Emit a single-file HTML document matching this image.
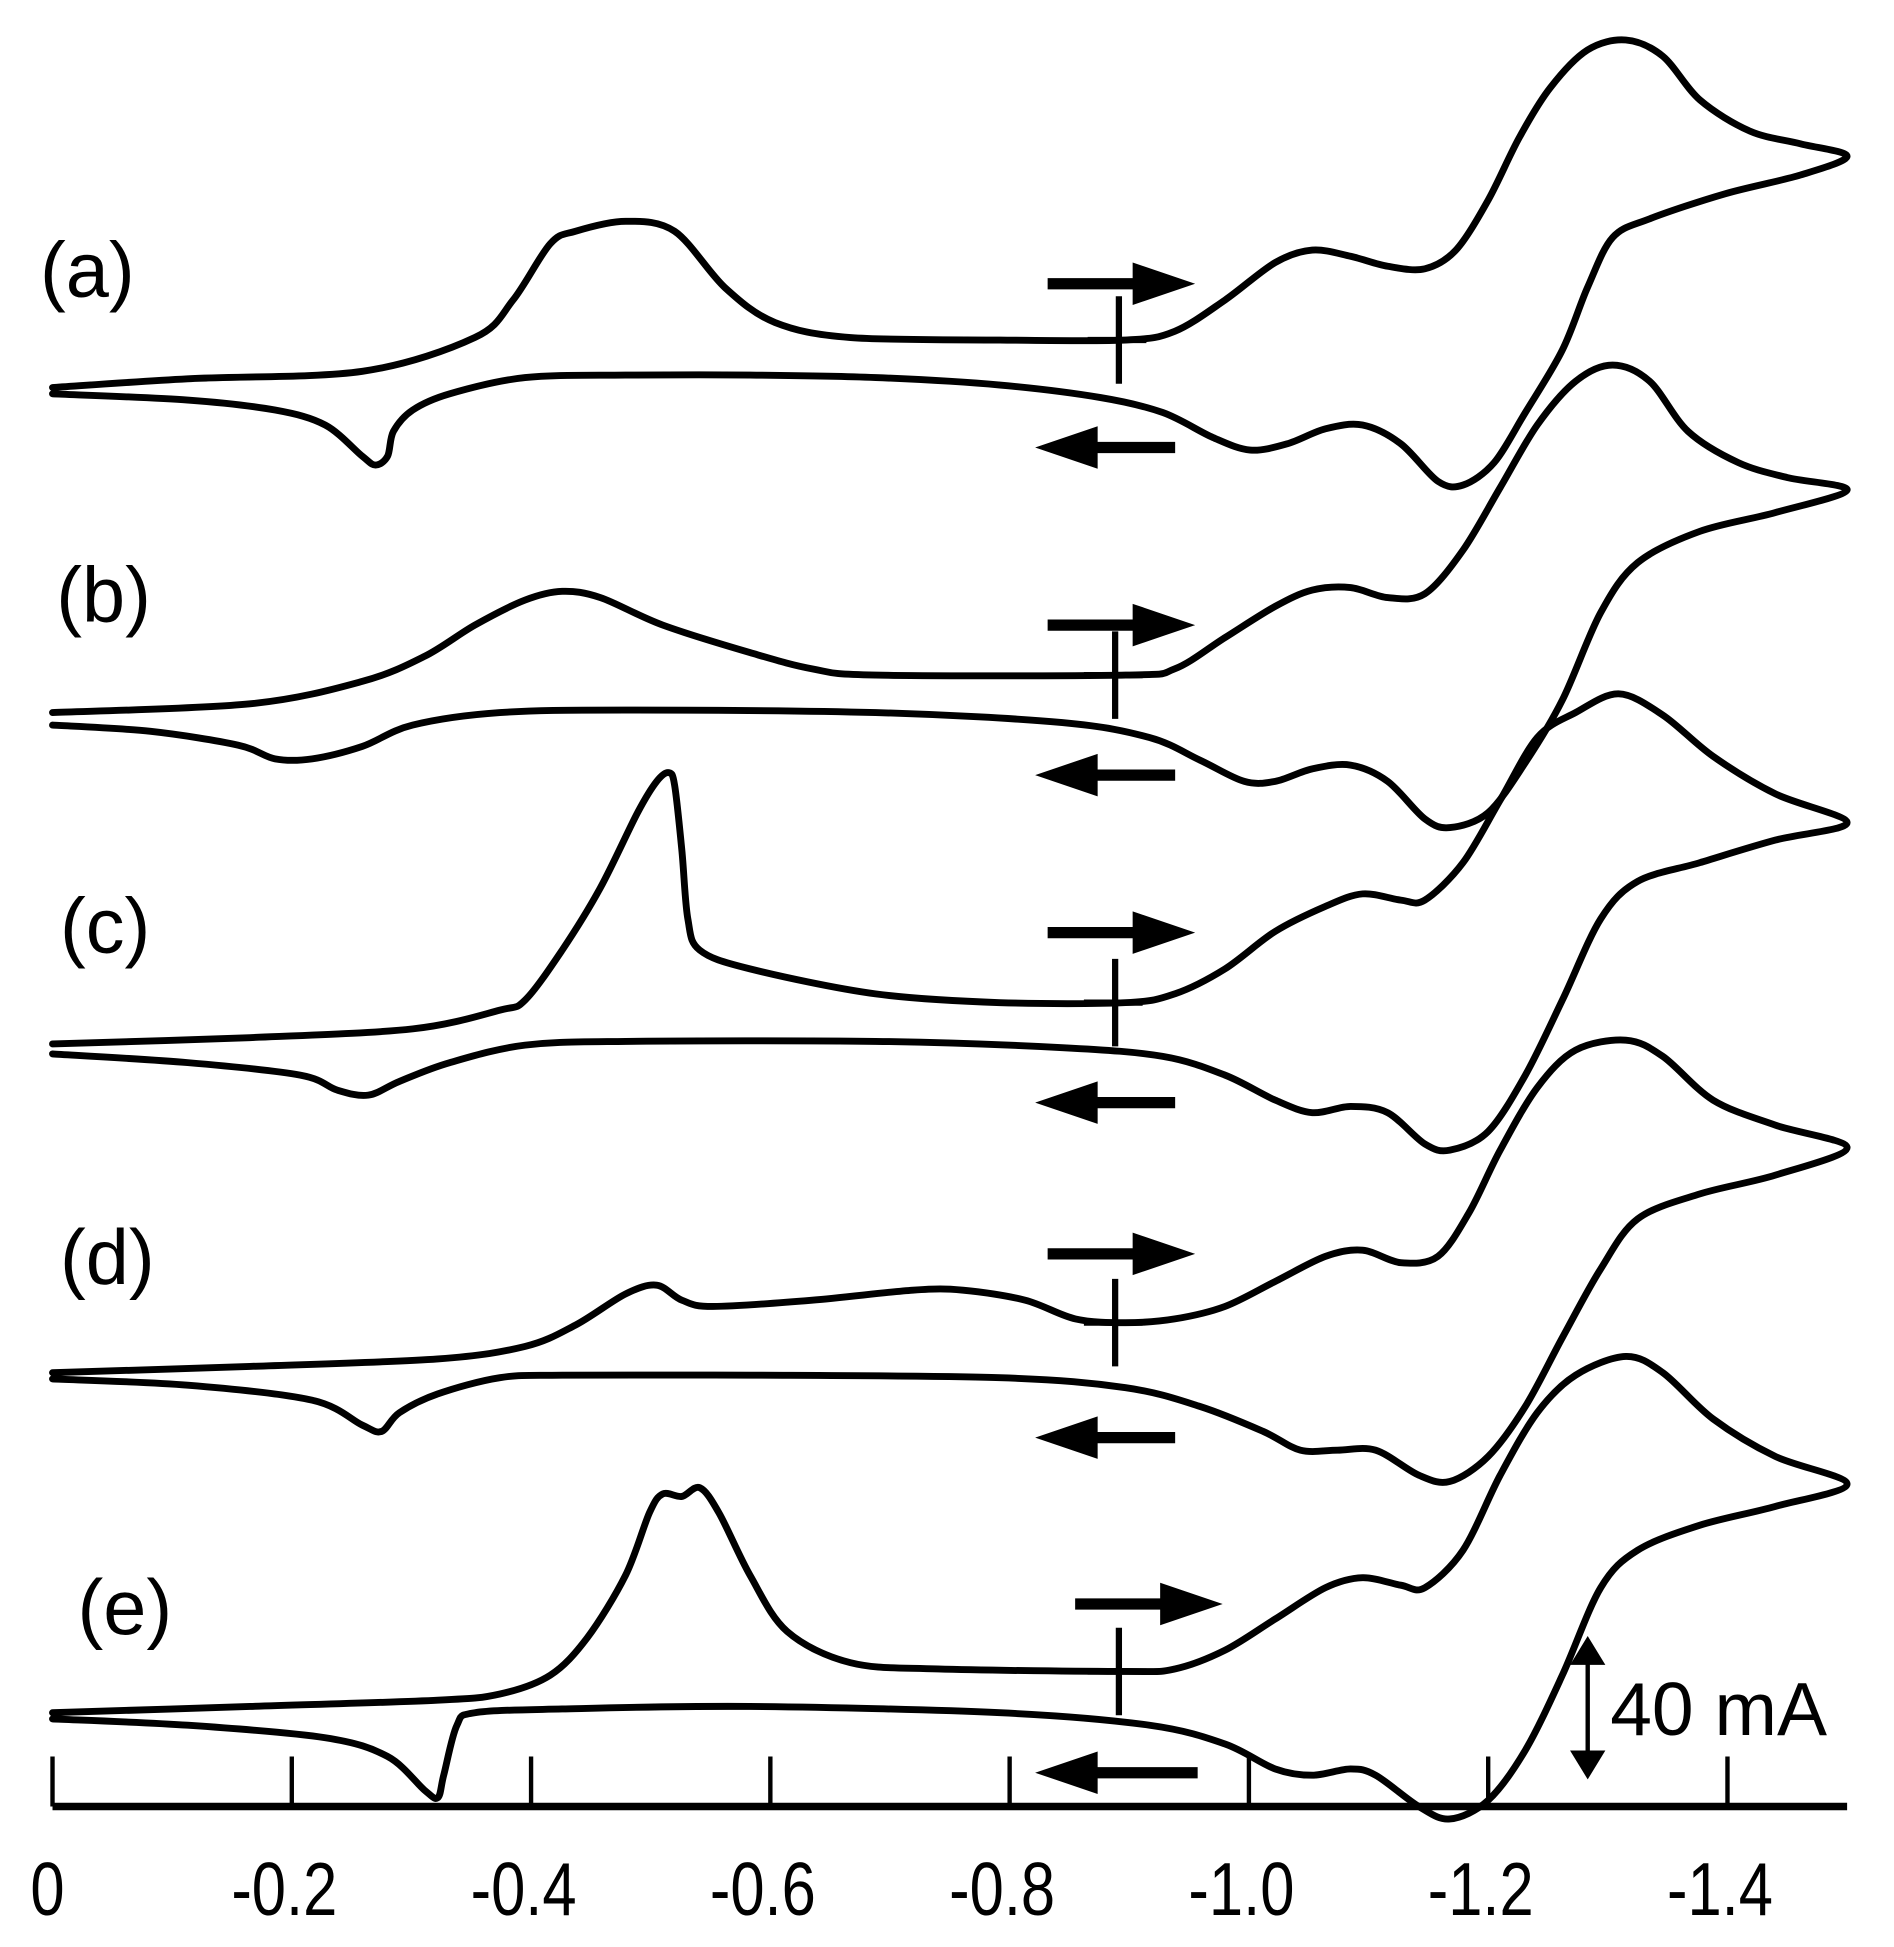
<!DOCTYPE html>
<html><head><meta charset="utf-8"><style>
html,body{margin:0;padding:0;background:#fff}
svg{display:block}
text{font-family:"Liberation Sans",sans-serif;fill:#000}
</style></head><body>
<svg id="chart" width="1894" height="1947" viewBox="0 0 1515 1557.4" xmlns="http://www.w3.org/2000/svg">
<g id="axis"></g>
<g id="traces"></g>
<g id="marks"></g>
</svg>
<script>
const tickValues=[0,0.2,0.4,0.6,0.8,1.0,1.2,1.4];
const tickLabels=["0","-0.2","-0.4","-0.6","-0.8","-1.0","-1.2","-1.4"];
const traceNames=["(a)","(b)","(c)","(d)","(e)"];
const traceOffsets=[312,572,838,1100,1368];
const aE=[0,0.113,0.259,0.353,0.385,0.416,0.437,0.479,0.520,0.562,0.604,0.667,0.792,0.897,0.938,0.980,1.022,1.053,1.085,1.116,1.147,1.173,1.200,1.226,1.252,1.283,1.315,1.346,1.377,1.419,1.461,1.5,1.461,1.398,1.335,1.304,1.283,1.262,1.231,1.205,1.179,1.158,1.127,1.095,1.064,1.032,1.001,0.970,0.928,0.876,0.792,0.688,0.583,0.479,0.395,0.332,0.301,0.285,0.280,0.270,0.259,0.228,0.186,0.113,0];
const aI=[0.8,3.6,6.0,16.8,28.8,46.8,50.8,54.0,50.8,32.8,21.6,16.8,16.0,16.0,18.8,28.8,40.8,44.8,42.8,39.6,38.8,44.8,60.8,80.8,96.8,108.8,112.0,106.8,92.8,82.8,78.8,74.8,68.8,62.8,54.8,48.8,32.8,12.8,-7.2,-23.2,-30.4,-29.2,-17.2,-11.2,-12.4,-17.2,-19.2,-15.2,-7.2,-2.4,1.6,4.0,4.8,4.8,4.0,-1.2,-6.4,-13.2,-21.2,-24.0,-21.2,-11.2,-6.4,-3.2,-1.2];
const bE=[0,0.165,0.259,0.311,0.353,0.395,0.426,0.458,0.510,0.583,0.635,0.688,0.897,0.938,0.980,1.022,1.053,1.085,1.116,1.147,1.179,1.210,1.241,1.273,1.304,1.335,1.367,1.409,1.450,1.5,1.440,1.377,1.325,1.294,1.262,1.231,1.200,1.168,1.147,1.116,1.085,1.053,1.022,0.996,0.959,0.917,0.844,0.688,0.479,0.374,0.301,0.259,0.217,0.186,0.155,0.082,0];
const bI=[0.8,3.6,10.8,18.8,28.8,36.8,39.6,37.6,28.8,20.0,14.8,12.8,12.8,14.8,24.8,34.8,40.0,40.8,37.6,38.8,52.8,72.8,92.8,106.8,112.0,106.8,90.8,80.8,76.0,72.0,64.8,58.8,48.8,32.8,4.8,-15.2,-31.2,-36.0,-33.2,-21.2,-16.0,-17.2,-21.2,-21.2,-14.4,-7.2,-2.4,0.8,1.6,0.8,-3.2,-10.0,-14.0,-14.0,-9.6,-5.2,-3.2];
const cE=[0,0.165,0.301,0.374,0.395,0.426,0.458,0.489,0.505,0.515,0.520,0.526,0.531,0.541,0.583,0.688,0.792,0.897,0.938,0.980,1.022,1.064,1.095,1.127,1.147,1.179,1.210,1.241,1.273,1.309,1.346,1.388,1.440,1.5,1.440,1.377,1.325,1.294,1.262,1.231,1.200,1.168,1.147,1.116,1.085,1.053,1.022,0.980,0.928,0.844,0.688,0.479,0.395,0.332,0.290,0.264,0.238,0.207,0.113,0];
const cI=[1.2,3.2,6.0,12.0,15.2,31.2,51.2,75.2,85.2,88.0,84.0,63.2,41.2,31.2,25.2,17.2,14.4,14.4,17.2,25.2,37.2,45.2,49.2,47.2,47.2,59.2,79.2,99.2,107.2,113.2,106.4,93.2,81.2,72.0,66.4,59.2,53.2,41.2,15.2,-8.8,-26.8,-32.8,-30.8,-20.8,-18.8,-20.8,-16.8,-8.8,-2.8,0,2.0,2.0,0.8,-4.8,-10.8,-15.2,-13.6,-8.8,-4.8,-2.0];
const dE=[0,0.165,0.322,0.395,0.437,0.479,0.505,0.526,0.552,0.635,0.719,0.761,0.813,0.855,0.897,0.938,0.980,1.022,1.064,1.095,1.127,1.158,1.184,1.210,1.241,1.273,1.315,1.346,1.388,1.440,1.5,1.440,1.377,1.325,1.294,1.262,1.231,1.200,1.168,1.142,1.106,1.074,1.043,1.012,0.959,0.897,0.792,0.583,0.426,0.374,0.322,0.290,0.275,0.259,0.217,0.113,0];
const dI=[0.8,2.8,5.2,9.2,16.0,26.0,28.8,24.0,22.0,24.0,27.2,27.2,24.0,18.0,16.8,18.0,22.0,30.0,38.0,40.0,36.0,38.0,52.0,72.0,92.0,104.0,107.2,102.0,88.0,80.0,72.8,64.0,58.0,50.0,34.0,12.0,-10.0,-26.0,-34.0,-32.0,-24.0,-24.0,-24.0,-18.0,-10.0,-4.0,-0.8,0,0,-0.8,-6.0,-12.0,-18.0,-16.0,-8.0,-3.2,-1.2];
const eE=[0,0.165,0.322,0.374,0.416,0.447,0.479,0.499,0.510,0.526,0.541,0.557,0.583,0.614,0.667,0.740,0.897,0.938,0.980,1.022,1.064,1.095,1.127,1.147,1.179,1.210,1.241,1.273,1.315,1.346,1.388,1.440,1.5,1.440,1.377,1.325,1.294,1.262,1.231,1.200,1.168,1.142,1.106,1.085,1.053,1.022,0.980,0.917,0.792,0.583,0.426,0.353,0.338,0.327,0.322,0.311,0.280,0.228,0.113,0];
const eI=[-0.8,1.2,3.2,5.2,11.2,23.2,43.2,63.2,69.2,68.4,71.2,63.2,43.2,25.2,15.2,13.2,12.4,13.2,19.2,29.2,39.2,42.4,40.0,39.2,51.2,75.2,95.2,107.2,113.2,108.0,93.2,81.2,72.4,65.2,59.2,51.2,39.2,11.2,-12.8,-28.8,-34.8,-30.8,-20.8,-18.8,-20.8,-18.8,-10.8,-4.8,-0.8,1.2,0.4,-0.8,-4.8,-20.8,-28.0,-25.6,-14.8,-8.8,-4.8,-2.8];
const seriesE=[aE,bE,cE,dE,eE];
const seriesI=[aI,bI,cI,dI,eI];

const NS="http://www.w3.org/2000/svg";
const X0=42,PXV=957,PXMA=2.5,AXY=1445;
function xScale(E){return X0+E*PXV;}
function yScale(I,k){return traceOffsets[k]-I*PXMA;}
function mk(tag,attrs,parent){const el=document.createElementNS(NS,tag);for(const a in attrs)el.setAttribute(a,attrs[a]);parent.appendChild(el);return el;}
function smoothPath(pts){
  let d="M"+pts[0][0].toFixed(1)+","+pts[0][1].toFixed(1);
  for(let i=0;i<pts.length-1;i++){
    const p0=pts[Math.max(0,i-1)],p1=pts[i],p2=pts[i+1],p3=pts[Math.min(pts.length-1,i+2)];
    const t=0.16;
    const c1=[p1[0]+(p2[0]-p0[0])*t,p1[1]+(p2[1]-p0[1])*t];
    const c2=[p2[0]-(p3[0]-p1[0])*t,p2[1]-(p3[1]-p1[1])*t];
    d+="C"+c1[0].toFixed(1)+","+c1[1].toFixed(1)+" "+c2[0].toFixed(1)+","+c2[1].toFixed(1)+" "+p2[0].toFixed(1)+","+p2[1].toFixed(1);
  }
  return d;
}
const axis=document.getElementById('axis');
const axLine=mk('line',{x1:X0,y1:AXY,x2:xScale(1.5),y2:AXY,stroke:'#000','stroke-width':6},axis);


tickValues.forEach((v,i)=>{
  const tk=mk('line',{x1:xScale(v),y1:AXY,x2:xScale(v),y2:AXY-40,stroke:'#000','stroke-width':3.5},axis);
  
  
  const tx=mk('text',{x:0,y:0,'text-anchor':'middle','font-size':60,transform:'translate('+(xScale(v)-(i?6:4))+',1532) scale(0.82,1)'},axis);
  tx.textContent=tickLabels[i];
  
  
});
const traces=document.getElementById('traces');
seriesE.forEach((E,k)=>{
  const pts=E.map((e,i)=>[xScale(e),yScale(seriesI[k][i],k)]);
  const p=mk('path',{d:smoothPath(pts),fill:'none',stroke:'#000','stroke-width':5.5,'stroke-linejoin':'round','stroke-linecap':'round'},traces);
  
  
});
const marks=document.getElementById('marks');
const labelPos=[[32,237],[45,497],[48,762],[48,1027],[62,1307]];
const rArrow=[[838,227],[838,500],[838,746],[838,1003],[860,1283]];
const lArrow=[[828,358],[828,620],[828,882],[828,1150],[828,1418]];
const crossX=[895,892,892,892,895];
const crossH=[272,540,802,1058,1337];
traceNames.forEach((n,k)=>{
  const t=mk('text',{x:labelPos[k][0],y:labelPos[k][1],'font-size':62},marks);
  t.textContent=n;
  
  
  const [rx,ry]=rArrow[k];
  const ra=mk('path',{d:`M${rx},${ry-4.5}H${rx+68}V${ry-17}L${rx+118},${ry}L${rx+68},${ry+17}V${ry+4.5}H${rx}Z`,fill:'#000'},marks);
  
  
  const [lx,ly]=lArrow[k];
  const w=k===4?130:112;
  const la=mk('path',{d:`M${lx+w},${ly-4.5}H${lx+50}V${ly-17}L${lx},${ly}L${lx+50},${ly+17}V${ly+4.5}H${lx+w}Z`,fill:'#000'},marks);
  
  
  const cx=crossX[k],cy=crossH[k];
  const cr=mk('path',{d:`M${cx},${cy-35}V${cy+35}M${cx-25},${cy}H${cx+22}`,stroke:'#000','stroke-width':5,fill:'none'},marks);
  
  
});
const sb=mk('path',{d:'M1270,1322V1410M1259,1330L1270,1312L1281,1330ZM1259,1402L1270,1420L1281,1402Z',stroke:'#000','stroke-width':3.5,fill:'#000'},marks);


const sbt=mk('text',{x:1288,y:1388,'font-size':60},marks);
sbt.textContent='40 mA';


</script>
</body></html>
